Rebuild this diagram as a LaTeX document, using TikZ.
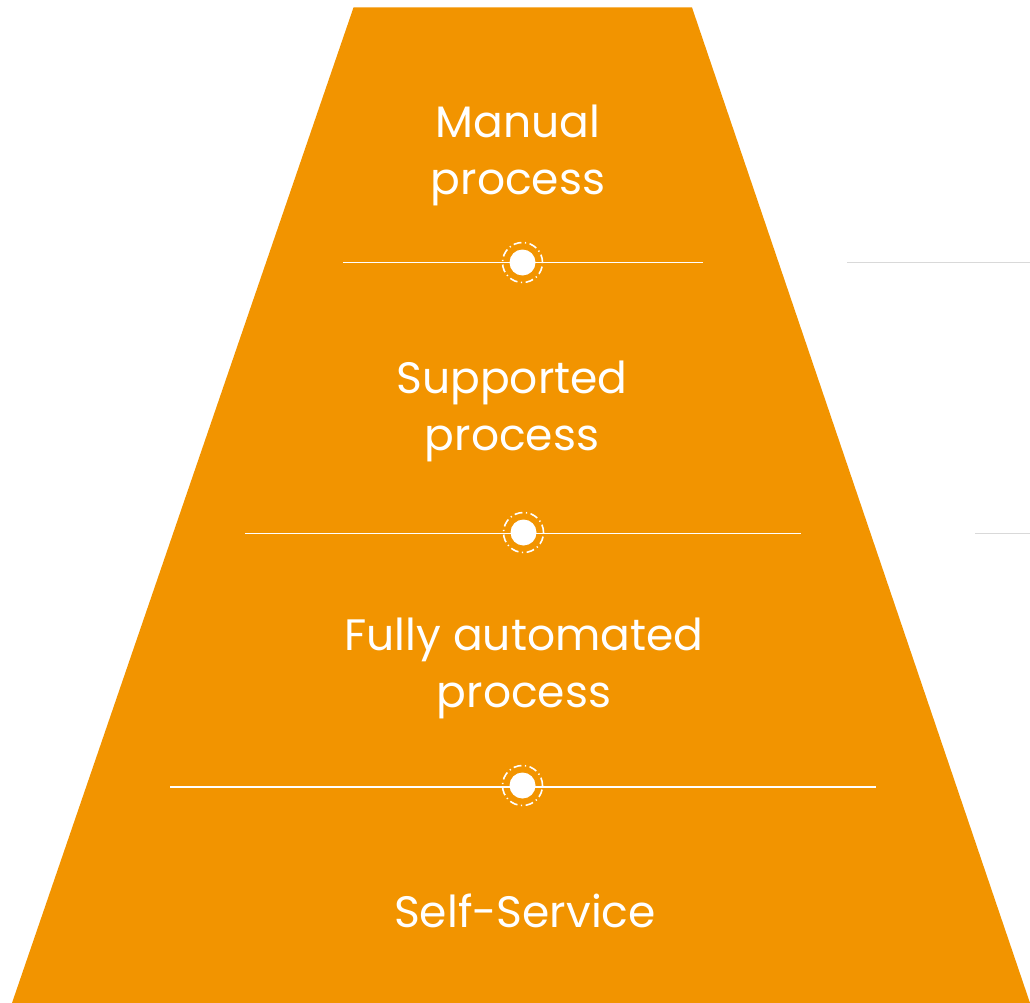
\documentclass[tikz,border=0pt]{standalone}
\usepackage{fontspec}
\setmainfont{Poppins}
\definecolor{pyrorange}{HTML}{F29400}
\definecolor{sidegray}{HTML}{D9D9D9}
\begin{document}
\begin{tikzpicture}[x=1pt,y=-1pt,
  lbl/.style={text=white,font=\fontsize{44}{57}\selectfont,align=center,anchor=base,inner sep=0pt},
  sep/.style={draw=white,line width=1.3pt},
  side/.style={draw=sidegray,line width=1.5pt},
  dot/.style={circle,fill=white,minimum size=26pt,inner sep=0pt},
  ring/.style={circle,draw=white,line width=1.6pt,minimum size=40pt,inner sep=0pt,
     dash pattern=on 8pt off 3.5pt on 1.2pt off 3.5pt}]
\useasboundingbox (0,0) rectangle (1030,1003);
\fill[pyrorange] (353.5,7.5) -- (692,7.5) -- (1030,1003) -- (12,1003) -- cycle;
% separator lines
\coordinate (l1a) at (343,262.5); \coordinate (l1b) at (703,262.5);
\coordinate (l2a) at (245,533.5); \coordinate (l2b) at (801,533.5);
\coordinate (l3a) at (170,787); \coordinate (l3b) at (876,787);
\draw[sep] (l1a) -- (l1b);
\draw[sep] (l2a) -- (l2b);
\draw[sep] (l3a) -- (l3b);
% side gray lines
\coordinate (g1a) at (847,262.5); \coordinate (g1b) at (1030,262.5);
\coordinate (g2a) at (975,533.5); \coordinate (g2b) at (1030,533.5);
\draw[side] (g1a) -- (g1b);
\draw[side] (g2a) -- (g2b);
% dots
\node[dot] (d1) at (522.5,262.5) {};
\node[ring] (r1) at (522.5,262.5) {};
\node[dot] (d2) at (523.5,532.5) {};
\node[ring] (r2) at (523.5,532.5) {};
\node[dot] (d3) at (522.5,785.5) {};
\node[ring] (r3) at (522.5,785.5) {};
% labels
\node[lbl] (t1) at (518,194) {Manual\\process};
\node[lbl] (t2) at (512,450) {Supported\\process};
\node[lbl] (t3) at (524,707) {Fully automated\\process};
\node[lbl] (t4) at (525,927) {Self-Service};
\end{tikzpicture}
\end{document}
